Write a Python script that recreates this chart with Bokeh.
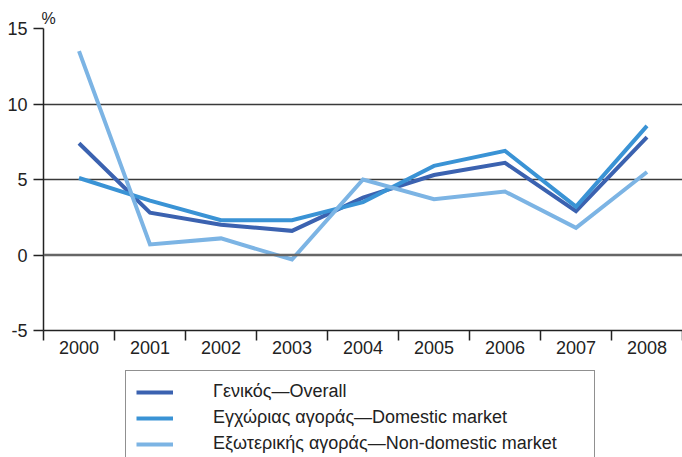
from bokeh.plotting import figure
from bokeh.models import FixedTicker, Legend, LegendItem, Span, Range1d
from bokeh.layouts import column
from bokeh.embed import file_html
from bokeh.resources import INLINE

years = ["2000", "2001", "2002", "2003", "2004", "2005", "2006", "2007", "2008"]
overall = [7.4, 2.8, 2.0, 1.6, 3.8, 5.3, 6.1, 2.9, 7.8]
domestic = [5.1, 3.6, 2.3, 2.3, 3.5, 5.9, 6.9, 3.2, 8.55]
non_domestic = [13.5, 0.7, 1.1, -0.3, 5.0, 3.7, 4.2, 1.8, 5.5]
y_ticks = [-5, 0, 5, 10, 15]
names = ["Γενικός—Overall", "Εγχώριας αγοράς—Domestic market",
         "Εξωτερικής αγοράς—Non-domestic market"]
colors = ["#3b62b0", "#3a93d5", "#7cb4e4"]

FONT = "Liberation Sans"
INK = "#222222"

xs = [i + 0.5 for i in range(len(years))]
series = [overall, domestic, non_domestic]

p = figure(width=682, height=365, output_backend="svg", toolbar_location=None,
           x_range=Range1d(0, len(years)), y_range=Range1d(-5, 15),
           min_border_left=43, min_border_right=0, min_border_top=28,
           min_border_bottom=35)
p.outline_line_color = None
p.background_fill_color = "white"

# title "%"
p.title.text = "%"
p.title.text_font = FONT
p.title.text_font_size = "16px"
p.title.text_font_style = "normal"
p.title.text_color = INK
p.title.align = "left"
p.title.offset = -2
p.title.standoff = 4

# x axis: labels at category centres, ticks at category boundaries
p.xaxis.ticker = FixedTicker(ticks=xs, minor_ticks=list(range(len(years) + 1)))
p.xaxis.major_label_overrides = {x: y for x, y in zip(xs, years)}
p.xaxis.major_tick_out = 0
p.xaxis.major_tick_in = 0
p.xaxis.minor_tick_out = 10
p.xaxis.minor_tick_in = 0
p.xaxis.minor_tick_line_color = INK
p.xaxis.minor_tick_line_width = 1.5
p.xaxis.axis_line_color = INK
p.xaxis.axis_line_width = 1.5
p.xaxis.major_label_text_font = FONT
p.xaxis.major_label_text_font_size = "18px"
p.xaxis.major_label_text_color = INK
p.xaxis.major_label_standoff = 0

# y axis
p.yaxis.ticker = FixedTicker(ticks=y_ticks)
p.yaxis.major_label_overrides = {t: str(t) for t in y_ticks}
p.yaxis.major_tick_out = 10
p.yaxis.major_tick_in = 0
p.yaxis.major_tick_line_color = INK
p.yaxis.major_tick_line_width = 1.5
p.yaxis.minor_tick_line_color = None
p.yaxis.axis_line_color = INK
p.yaxis.axis_line_width = 1.5
p.yaxis.major_label_text_font = FONT
p.yaxis.major_label_text_font_size = "18px"
p.yaxis.major_label_text_color = INK
p.yaxis.major_label_standoff = 6

p.xgrid.grid_line_color = None
p.ygrid.ticker = FixedTicker(ticks=[5, 10, 15])
p.ygrid.grid_line_color = "#3a3a3a"
p.ygrid.grid_line_width = 1.5

p.add_layout(Span(location=0, dimension="width", line_color="#666666", line_width=2.5))

for vals, c in zip(series, colors):
    p.line(xs, vals, line_color=c, line_width=4, line_join="miter")

# legend strip below the chart; key glyphs are one-point lines (draw nothing themselves)
lg = figure(width=682, height=92, output_backend="svg", toolbar_location=None,
            x_axis_location=None, y_axis_location=None,
            min_border_left=0, min_border_right=0, min_border_top=0, min_border_bottom=0,
            x_range=Range1d(0, len(years)), y_range=Range1d(-5, 15))
lg.outline_line_color = None
lg.xgrid.grid_line_color = None
lg.ygrid.grid_line_color = None
keys = [lg.line(xs[:1], vals[:1], line_color=c, line_width=4)
        for vals, c in zip(series, colors)]

legend = Legend(items=[LegendItem(label=n, renderers=[r]) for n, r in zip(names, keys)],
                location=(82, -8), orientation="vertical",
                padding=10, spacing=5, margin=0,
                glyph_width=37, glyph_height=20, label_height=20,
                label_standoff=40, label_width=371,
                label_text_font=FONT, label_text_font_size="18px",
                label_text_color=INK,
                border_line_color=INK, border_line_width=1.5,
                background_fill_alpha=0)
lg.add_layout(legend, "center")

layout = column(p, lg, spacing=0)
open("out.html", "w").write(file_html(layout, INLINE))
